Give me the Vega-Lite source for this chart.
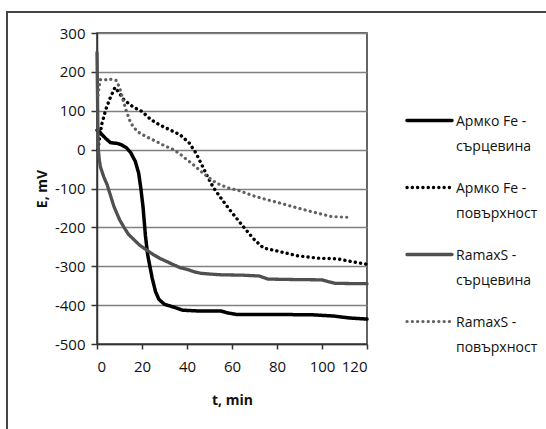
{
  "$schema": "https://vega.github.io/schema/vega-lite/v6.json",
  "autosize": "none",
  "padding": {"left": 97, "top": 33, "right": 179, "bottom": 85},
  "width": 270,
  "height": 311,
  "background": "white",
  "config": {
    "font": "Open Sans",
    "view": {"stroke": "#333333", "strokeWidth": 1.5},
    "axis": {
      "labelFont": "Open Sans", "labelFontSize": 15, "labelColor": "#111111", "labelOverlap": false,
      "titleFont": "Open Sans", "titleFontSize": 14, "titleFontWeight": "bold", "titleColor": "#111111",
      "domainColor": "#333333", "domainWidth": 1.5, "tickColor": "#333333", "tickWidth": 1.5
    }
  },
  "data": {"values": [
    {"s":"Армко Fe - сърцевина","t":0,"E":50},{"s":"Армко Fe - сърцевина","t":1,"E":47},{"s":"Армко Fe - сърцевина","t":2,"E":40},{"s":"Армко Fe - сърцевина","t":4,"E":28},{"s":"Армко Fe - сърцевина","t":6,"E":18},{"s":"Армко Fe - сърцевина","t":9,"E":16},{"s":"Армко Fe - сърцевина","t":11,"E":12},{"s":"Армко Fe - сърцевина","t":13,"E":5},{"s":"Армко Fe - сърцевина","t":15,"E":-8},{"s":"Армко Fe - сърцевина","t":17,"E":-30},{"s":"Армко Fe - сърцевина","t":18.5,"E":-60},{"s":"Армко Fe - сърцевина","t":19.5,"E":-100},{"s":"Армко Fe - сърцевина","t":20.5,"E":-150},{"s":"Армко Fe - сърцевина","t":21.5,"E":-220},{"s":"Армко Fe - сърцевина","t":22.5,"E":-270},{"s":"Армко Fe - сърцевина","t":23.5,"E":-300},{"s":"Армко Fe - сърцевина","t":24.5,"E":-330},{"s":"Армко Fe - сърцевина","t":26,"E":-365},{"s":"Армко Fe - сърцевина","t":27.5,"E":-385},{"s":"Армко Fe - сърцевина","t":30,"E":-398},{"s":"Армко Fe - сърцевина","t":34,"E":-405},{"s":"Армко Fe - сърцевина","t":38,"E":-413},{"s":"Армко Fe - сърцевина","t":45,"E":-415},{"s":"Армко Fe - сърцевина","t":55,"E":-415},{"s":"Армко Fe - сърцевина","t":58,"E":-420},{"s":"Армко Fe - сърцевина","t":62,"E":-424},{"s":"Армко Fe - сърцевина","t":80,"E":-424},{"s":"Армко Fe - сърцевина","t":96,"E":-425},{"s":"Армко Fe - сърцевина","t":105,"E":-428},{"s":"Армко Fe - сърцевина","t":112,"E":-433},{"s":"Армко Fe - сърцевина","t":120,"E":-436},
    {"s":"Армко Fe - повърхност","t":0.5,"E":0},{"s":"Армко Fe - повърхност","t":1,"E":25},{"s":"Армко Fe - повърхност","t":2,"E":63},{"s":"Армко Fe - повърхност","t":4,"E":105},{"s":"Армко Fe - повърхност","t":6,"E":135},{"s":"Армко Fe - повърхност","t":8,"E":160},{"s":"Армко Fe - повърхност","t":10,"E":145},{"s":"Армко Fe - повърхност","t":12,"E":128},{"s":"Армко Fe - повърхност","t":16,"E":110},{"s":"Армко Fe - повърхност","t":20,"E":98},{"s":"Армко Fe - повърхност","t":24,"E":77},{"s":"Армко Fe - повърхност","t":28,"E":63},{"s":"Армко Fe - повърхност","t":32,"E":52},{"s":"Армко Fe - повърхност","t":37,"E":38},{"s":"Армко Fe - повърхност","t":41,"E":17},{"s":"Армко Fe - повърхност","t":44,"E":-9},{"s":"Армко Fe - повърхност","t":47,"E":-44},{"s":"Армко Fe - повърхност","t":49.5,"E":-74},{"s":"Армко Fe - повърхност","t":52,"E":-100},{"s":"Армко Fe - повърхност","t":55,"E":-124},{"s":"Армко Fe - повърхност","t":59,"E":-155},{"s":"Армко Fe - повърхност","t":65,"E":-198},{"s":"Армко Fe - повърхност","t":70,"E":-232},{"s":"Армко Fe - повърхност","t":74,"E":-253},{"s":"Армко Fe - повърхност","t":81,"E":-262},{"s":"Армко Fe - повърхност","t":89,"E":-273},{"s":"Армко Fe - повърхност","t":98,"E":-279},{"s":"Армко Fe - повърхност","t":107,"E":-281},{"s":"Армко Fe - повърхност","t":113,"E":-288},{"s":"Армко Fe - повърхност","t":120,"E":-295},
    {"s":"RamaxS - сърцевина","t":0,"E":250},{"s":"RamaxS - сърцевина","t":0.2,"E":150},{"s":"RamaxS - сърцевина","t":0.4,"E":50},{"s":"RamaxS - сърцевина","t":0.6,"E":0},{"s":"RamaxS - сърцевина","t":1,"E":-25},{"s":"RamaxS - сърцевина","t":1.5,"E":-44},{"s":"RamaxS - сърцевина","t":3,"E":-70},{"s":"RamaxS - сърцевина","t":4.5,"E":-90},{"s":"RamaxS - сърцевина","t":6,"E":-118},{"s":"RamaxS - сърцевина","t":7.5,"E":-146},{"s":"RamaxS - сърцевина","t":10,"E":-180},{"s":"RamaxS - сърцевина","t":12,"E":-200},{"s":"RamaxS - сърцевина","t":14,"E":-218},{"s":"RamaxS - сърцевина","t":16.5,"E":-232},{"s":"RamaxS - сърцевина","t":19,"E":-246},{"s":"RamaxS - сърцевина","t":22,"E":-258},{"s":"RamaxS - сърцевина","t":25,"E":-270},{"s":"RamaxS - сърцевина","t":28,"E":-280},{"s":"RamaxS - сърцевина","t":31,"E":-288},{"s":"RamaxS - сърцевина","t":34,"E":-296},{"s":"RamaxS - сърцевина","t":37,"E":-304},{"s":"RamaxS - сърцевина","t":40,"E":-308},{"s":"RamaxS - сърцевина","t":43,"E":-314},{"s":"RamaxS - сърцевина","t":46,"E":-318},{"s":"RamaxS - сърцевина","t":50,"E":-320},{"s":"RamaxS - сърцевина","t":55,"E":-322},{"s":"RamaxS - сърцевина","t":65,"E":-323},{"s":"RamaxS - сърцевина","t":72,"E":-325},{"s":"RamaxS - сърцевина","t":76,"E":-333},{"s":"RamaxS - сърцевина","t":85,"E":-334},{"s":"RamaxS - сърцевина","t":100,"E":-335},{"s":"RamaxS - сърцевина","t":103,"E":-340},{"s":"RamaxS - сърцевина","t":106,"E":-344},{"s":"RamaxS - сърцевина","t":120,"E":-345},
    {"s":"RamaxS - повърхност","t":0.5,"E":140},{"s":"RamaxS - повърхност","t":1,"E":165},{"s":"RamaxS - повърхност","t":1.5,"E":180},{"s":"RamaxS - повърхност","t":3,"E":178},{"s":"RamaxS - повърхност","t":5,"E":182},{"s":"RamaxS - повърхност","t":7,"E":180},{"s":"RamaxS - повърхност","t":8.5,"E":178},{"s":"RamaxS - повърхност","t":10,"E":160},{"s":"RamaxS - повърхност","t":11.5,"E":130},{"s":"RamaxS - повърхност","t":13,"E":100},{"s":"RamaxS - повърхност","t":15,"E":68},{"s":"RamaxS - повърхност","t":18,"E":46},{"s":"RamaxS - повърхност","t":22,"E":33},{"s":"RamaxS - повърхност","t":26,"E":22},{"s":"RamaxS - повърхност","t":30,"E":10},{"s":"RamaxS - повърхност","t":34,"E":0},{"s":"RamaxS - повърхност","t":37,"E":-12},{"s":"RamaxS - повърхност","t":40,"E":-26},{"s":"RamaxS - повърхност","t":43,"E":-40},{"s":"RamaxS - повърхност","t":46,"E":-55},{"s":"RamaxS - повърхност","t":49,"E":-69},{"s":"RamaxS - повърхност","t":53,"E":-86},{"s":"RamaxS - повърхност","t":58,"E":-98},{"s":"RamaxS - повърхност","t":63,"E":-105},{"s":"RamaxS - повърхност","t":69,"E":-118},{"s":"RamaxS - повърхност","t":75,"E":-128},{"s":"RamaxS - повърхност","t":81,"E":-137},{"s":"RamaxS - повърхност","t":89,"E":-150},{"s":"RamaxS - повърхност","t":97,"E":-162},{"s":"RamaxS - повърхност","t":104,"E":-172},{"s":"RamaxS - повърхност","t":111,"E":-174}
  ]},
  "layer": [
    {
      "mark": {"type": "rect", "fill": null, "filled": false, "stroke": "#444444", "strokeWidth": 1.5, "clip": false},
      "encoding": {
        "x": {"datum": -40, "type": "quantitative", "title": "t, min",
          "scale": {"domain": [0, 120], "nice": false},
          "axis": {"values": [0,20,40,60,80,100,120], "grid": false, "tickSize": 5, "labelPadding": 10, "titlePadding": 19}},
        "x2": {"datum": 206},
        "y": {"datum": 354, "type": "quantitative", "title": "E, mV",
          "scale": {"domain": [-500, 300], "nice": false},
          "axis": {"values": [-500,-400,-300,-200,-100,0,100,200,300], "labelExpr": "replace(datum.label, '\u2212', '-')", "grid": true, "gridColor": "#808080", "gridWidth": 1.3, "tickSize": 6, "labelPadding": 6, "titlePadding": 5}},
        "y2": {"datum": -747}
      }
    },
    {
      "mark": {"type": "line", "strokeCap": "round", "strokeJoin": "round"},
      "encoding": {
        "x": {"field": "t", "type": "quantitative", "title": "t, min",
          "scale": {"domain": [0, 120], "nice": false},
          "axis": {"values": [0,20,40,60,80,100,120], "grid": false, "tickSize": 5, "labelPadding": 10, "titlePadding": 19}},
        "y": {"field": "E", "type": "quantitative", "title": "E, mV",
          "scale": {"domain": [-500, 300], "nice": false},
          "axis": {"values": [-500,-400,-300,-200,-100,0,100,200,300], "labelExpr": "replace(datum.label, '\u2212', '-')", "grid": true, "gridColor": "#808080", "gridWidth": 1.3, "tickSize": 6, "labelPadding": 6, "titlePadding": 5}},
        "color": {"field": "s", "type": "nominal", "title": null,
          "scale": {"domain": ["Армко Fe - сърцевина","Армко Fe - повърхност","RamaxS - сърцевина","RamaxS - повърхност"], "range": ["#000000","#000000","#505050","#606060"]},
          "legend": {"orient": "none", "legendX": 308, "legendY": 63, "symbolType": "stroke", "symbolSize": 2025, "labelFontSize": 14, "labelFont": "Open Sans", "labelColor": "#111111", "labelExpr": "[split(datum.label, ' - ')[0] + ' -', split(datum.label, ' - ')[1]]", "labelBaseline": "alphabetic", "rowPadding": 9, "labelOffset": 2,
            "encode": {"labels": {"update": {"dy": {"value": 5}, "lineHeight": {"value": 25}}}, "symbols": {"update": {"strokeCap": {"value": "round"}}}}}},
        "strokeDash": {"field": "s", "type": "nominal", "title": null,
          "scale": {"domain": ["Армко Fe - сърцевина","Армко Fe - повърхност","RamaxS - сърцевина","RamaxS - повърхност"], "range": [[1,0],[0.1,5.2],[1,0],[0.1,5.2]]}},
        "strokeWidth": {"field": "s", "type": "nominal", "title": null,
          "scale": {"domain": ["Армко Fe - сърцевина","Армко Fe - повърхност","RamaxS - сърцевина","RamaxS - повърхност"], "range": [3.5,3.2,3.5,3]}}
      }
    }
  ]
}
